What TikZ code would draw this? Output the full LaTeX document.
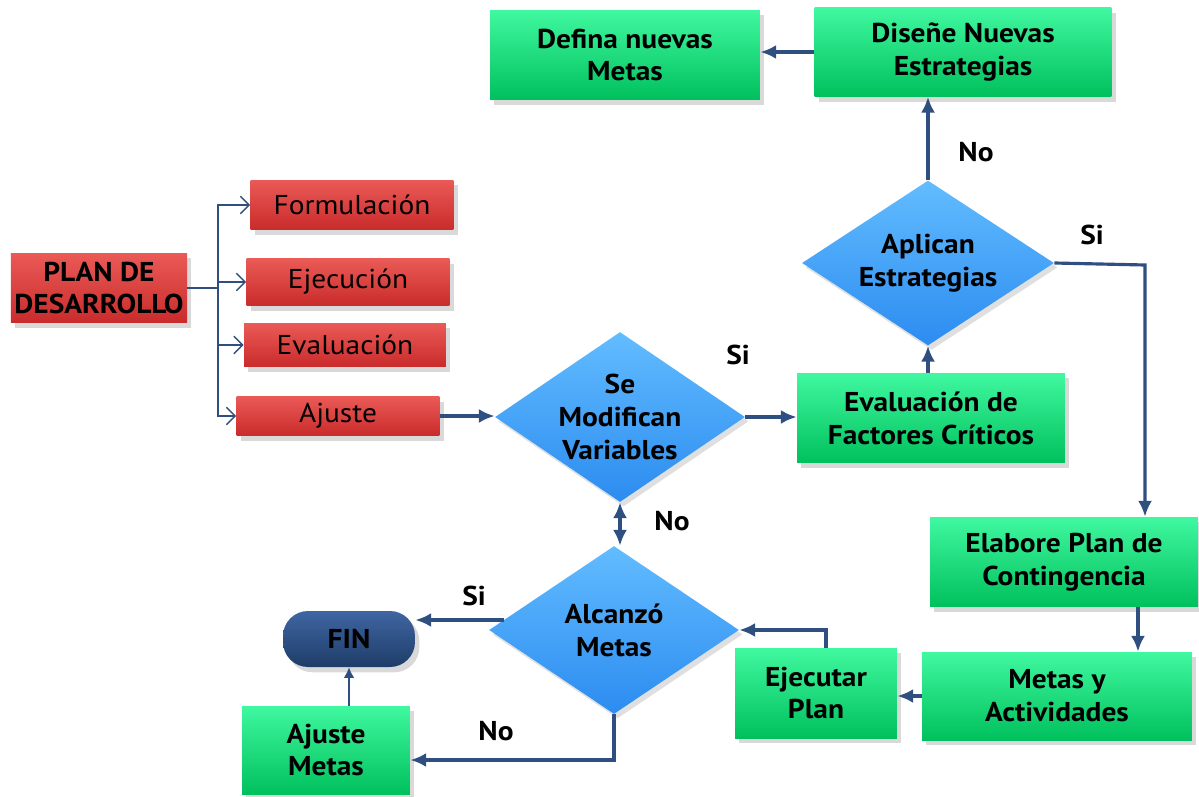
\documentclass[tikz,border=0pt]{standalone}
\usepackage{fontspec}
\setmainfont{PT Sans}[FakeStretch=1.08]
\usetikzlibrary{arrows.meta,shapes.geometric,shadows,positioning}

\definecolor{linkblue}{HTML}{2E4F7F}
\definecolor{redtop}{HTML}{EA5A56}
\definecolor{redbot}{HTML}{C92B2B}
\definecolor{greentop}{HTML}{40F8A0}
\definecolor{greenbot}{HTML}{00C05C}
\definecolor{bluetop}{HTML}{62BCFF}
\definecolor{bluebot}{HTML}{2C8CF0}
\definecolor{fintop}{HTML}{3F66A2}
\definecolor{finbot}{HTML}{1E3C68}

\tikzset{
  box/.style={draw=none,align=center,inner sep=2pt,
    drop shadow={opacity=0.3,shadow xshift=0.5ex,shadow yshift=-0.6ex},
    font=\fontsize{15.5}{18.7}\selectfont\bfseries},
  redbox/.style={box,top color=redtop,bottom color=redbot,
    font=\fontsize{15.5}{18.7}\selectfont},
  greenbox/.style={box,top color=greentop,bottom color=greenbot},
  decision/.style={diamond,aspect=1.5,inner sep=-3pt,align=center,
    top color=bluetop,bottom color=bluebot,
    drop shadow={opacity=0.25,shadow xshift=0.4ex,shadow yshift=-0.5ex},
    font=\fontsize{15.5}{18.7}\selectfont\bfseries},
  flow/.style={draw=linkblue,line width=1.8pt,-{Latex[length=9pt,width=8pt]}},
  branch/.style={draw=linkblue,line width=0.8pt,-{Straight Barb[length=5pt,width=10pt]}},
  answer/.style={font=\fontsize{15.5}{18}\selectfont\bfseries}
}

\begin{document}
\begin{tikzpicture}[x=0.02cm,y=-0.02cm]
\useasboundingbox (0,0) rectangle (1199,797);

% plan y sus etapas
\node[redbox,font=\fontsize{15.5}{18.7}\selectfont\bfseries,
  minimum width=3.48cm,minimum height=1.4cm] (plan) at (99,288) {PLAN DE\\DESARROLLO};
\node[redbox,minimum width=4.06cm,minimum height=1cm] (form) at (352,205) {Formulación};
\node[redbox,minimum width=4.06cm,minimum height=0.94cm] (ejec) at (348,282) {Ejecución};
\node[redbox,minimum width=4.04cm,minimum height=0.88cm] (eval) at (345,345) {Evaluación};
\node[redbox,minimum width=4.06cm,minimum height=0.78cm] (ajus) at (338,416) {Ajuste};

% decisiones
\node[decision,minimum width=5cm,minimum height=3.4cm] (modif) at (620,417) {Se\\Modifican\\Variables};
\node[decision,minimum width=5.04cm,minimum height=3.3cm] (aplic) at (928,263) {Aplican\\Estrategias};
\node[decision,minimum width=5cm,minimum height=3.36cm] (alcan) at (614,630) {Alcanzó\\Metas};

% cajas verdes
\node[greenbox,minimum width=5.36cm,minimum height=1.8cm] (fact) at (931,418) {Evaluación de\\Factores Críticos};
\node[greenbox,minimum width=5.94cm,minimum height=1.78cm] (disen) at (963,52) {Diseñe Nuevas\\Estrategias};
\node[greenbox,minimum width=5.4cm,minimum height=1.8cm] (defin) at (625,55) {Defina nuevas\\Metas};
\node[greenbox,minimum width=5.36cm,minimum height=1.8cm] (elab) at (1064,562) {Elabore Plan de\\Contingencia};
\node[greenbox,minimum width=5.4cm,minimum height=1.76cm] (metact) at (1057,696) {Metas y\\Actividades};
\node[greenbox,minimum width=3.24cm,minimum height=1.8cm] (ejplan) at (816,693) {Ejecutar\\Plan};
\node[greenbox,minimum width=3.36cm,minimum height=1.76cm] (ajmet) at (326,750) {Ajuste\\Metas};
\node[box,rounded corners=0.5cm,top color=fintop,bottom color=finbot,
  minimum width=2.64cm,minimum height=1.12cm] (fin) at (349,639) {FIN};

% respuestas
\node[answer] (si1) at (738,355) {Si};
\node[answer] (no1) at (976,152) {No};
\node[answer] (si2) at (1092,235) {Si};
\node[answer] (no2) at (672,521) {No};
\node[answer] (si3) at (474,596) {Si};
\node[answer] (no3) at (496,731) {No};

% conectores
\coordinate (br) at (218,288);
\coordinate (sicorner) at (1145,265);
\coordinate (sitail) at ([shift={(0.3cm,0.2cm)}]alcan.west);
\draw[draw=linkblue,line width=0.8pt] (plan.east) -- (br);
\foreach \t in {form,ejec,eval,ajus}
  \draw[branch] (br) |- (\t.west);
\draw[flow] (ajus.east) -- (ajus.east -| modif.west);
\draw[flow] (modif.east) -- (modif.east -| fact.west);
\draw[flow] (fact.north -| aplic.south) -- (aplic.south);
\draw[flow] (aplic.north) -- (aplic.north |- disen.south);
\draw[flow] (disen.west) -- (disen.west -| defin.east);
\draw[flow] (aplic.east) -- (sicorner) -- (sicorner |- elab.north);
\draw[flow] ([xshift=1.48cm]elab.south) -- ([xshift=1.48cm]elab.south |- metact.north);
\draw[flow] (metact.west) -- (metact.west -| ejplan.east);
\draw[flow] ([xshift=0.2cm]ejplan.north) |- (alcan.east);
\draw[flow,{Latex[length=9pt,width=8pt]}-{Latex[length=9pt,width=8pt]}] (modif.south) -- (modif.south |- alcan.north);
\draw[flow] (sitail) -- (sitail -| fin.east);
\draw[flow] (alcan.south) |- ([yshift=-0.2cm]ajmet.east);
\draw[draw=linkblue,line width=0.8pt,-{Latex[length=6pt,width=6pt]}] (ajmet.north -| fin.south) -- (fin.south);
\end{tikzpicture}
\end{document}
